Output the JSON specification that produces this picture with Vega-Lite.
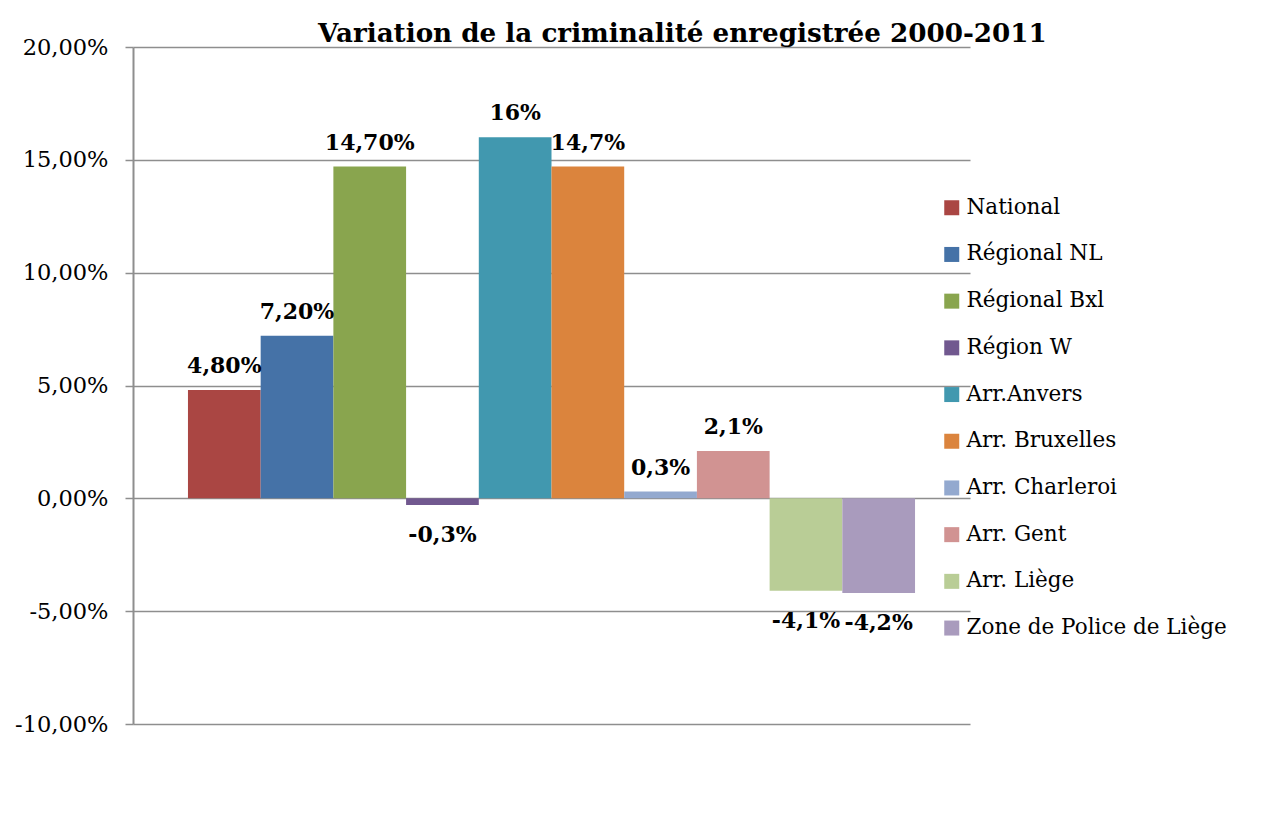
{
  "$schema": "https://vega.github.io/schema/vega-lite/v6.json",
  "autosize": {"type": "none"},
  "width": 837,
  "height": 677,
  "padding": {"left": 133, "top": 47, "right": 291, "bottom": 101},
  "background": "white",
  "config": {
    "view": {"stroke": null},
    "locale": {"number": {"decimal": ",", "thousands": ".", "grouping": [3], "currency": ["", " €"], "minus": "-"}},
    "font": "DejaVu Serif"
  },
  "title": {
    "text": "Variation de la criminalité enregistrée 2000-2011",
    "font": "DejaVu Serif",
    "fontSize": 26.2,
    "fontWeight": "bold",
    "color": "black",
    "anchor": "start",
    "frame": "group",
    "dx": 185,
    "dy": 37,
    "baseline": "alphabetic",
    "offset": 5
  },
  "data": {
    "values": [
      {"serie": "National", "value": 0.048, "label": "4,80%"},
      {"serie": "Régional NL", "value": 0.072, "label": "7,20%"},
      {"serie": "Régional Bxl", "value": 0.147, "label": "14,70%"},
      {"serie": "Région W", "value": -0.003, "label": "-0,3%"},
      {"serie": "Arr.Anvers", "value": 0.16, "label": "16%"},
      {"serie": "Arr. Bruxelles", "value": 0.147, "label": "14,7%"},
      {"serie": "Arr. Charleroi", "value": 0.003, "label": "0,3%"},
      {"serie": "Arr. Gent", "value": 0.021, "label": "2,1%"},
      {"serie": "Arr. Liège", "value": -0.041, "label": "-4,1%"},
      {"serie": "Zone de Police de Liège", "value": -0.042, "label": "-4,2%"}
    ]
  },
  "encoding": {
    "x": {
      "field": "serie",
      "type": "nominal",
      "sort": null,
      "axis": null,
      "scale": {"type": "band", "paddingInner": 0, "paddingOuter": 0.756}
    },
    "y": {
      "field": "value",
      "type": "quantitative",
      "scale": {"domain": [-0.1, 0.2], "nice": false, "zero": false},
      "axis": {
        "title": null,
        "values": [-0.1, -0.05, 0, 0.05, 0.1, 0.15, 0.2],
        "format": ".2%",
        "grid": true,
        "gridColor": "#8e8e8e",
        "gridWidth": 1.5,
        "gridOpacity": 1,
        "domainColor": "#8e8e8e",
        "domainWidth": 2,
        "tickColor": "#8e8e8e",
        "tickWidth": 1.5,
        "tickSize": 8,
        "labelFont": "DejaVu Serif",
        "labelFontSize": 22.5,
        "labelColor": "black",
        "labelPadding": 17
      }
    }
  },
  "layer": [
    {
      "mark": {"type": "bar"},
      "encoding": {
        "color": {
          "field": "serie",
          "type": "nominal",
          "sort": null,
          "scale": {
            "domain": ["National", "Régional NL", "Régional Bxl", "Région W", "Arr.Anvers", "Arr. Bruxelles", "Arr. Charleroi", "Arr. Gent", "Arr. Liège", "Zone de Police de Liège"],
            "range": ["#AA4643", "#4572A7", "#89A54E", "#71588F", "#4198AF", "#DB843D", "#93A9CF", "#D19392", "#B9CD96", "#A99BBD"]
          },
          "legend": {
            "title": null,
            "orient": "none",
            "legendX": 808,
            "legendY": 150,
            "padding": 0,
            "symbolType": "square",
            "symbolSize": 225,
            "symbolStrokeWidth": 0,
            "symbolOpacity": 1,
            "labelFont": "DejaVu Serif",
            "labelFontSize": 21.5,
            "labelColor": "black",
            "labelOffset": 4,
            "labelLimit": 400,
            "rowPadding": 23.7
          }
        }
      }
    },
    {
      "transform": [{"filter": "datum.value >= 0"}],
      "mark": {"type": "text", "font": "DejaVu Serif", "fontSize": 22, "fontWeight": "bold", "color": "black", "baseline": "alphabetic", "dy": -17},
      "encoding": {"text": {"field": "label"}}
    },
    {
      "transform": [{"filter": "datum.value < 0"}],
      "mark": {"type": "text", "font": "DejaVu Serif", "fontSize": 22, "fontWeight": "bold", "color": "black", "baseline": "alphabetic", "dy": 37},
      "encoding": {"text": {"field": "label"}}
    }
  ]
}
